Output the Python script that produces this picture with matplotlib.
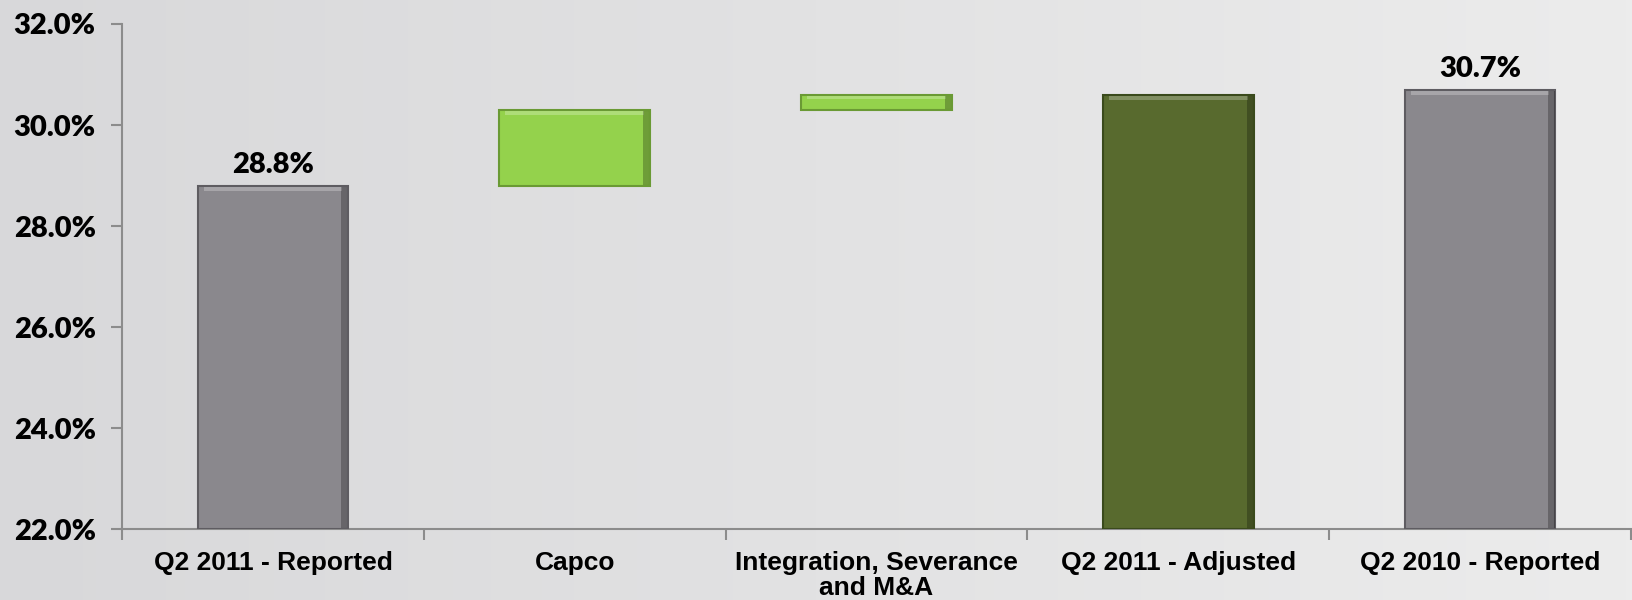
import numpy as np
import matplotlib

matplotlib.use('Agg')

import matplotlib.pyplot as plt
from matplotlib.ticker import FuncFormatter


categories = ['Q2 2011 - Reported', 'Capco', 'Integration, Severance\nand M&A',
              'Q2 2011 - Adjusted', 'Q2 2010 - Reported']
bar_bottoms = [22.0, 28.8, 30.3, 22.0, 22.0]
bar_tops = [28.8, 30.3, 30.6, 30.6, 30.7]
bar_colors = ['#8a888d', '#94d24c', '#94d24c', '#586a2e', '#8a888d']
edge_colors = ['#5e5c61', '#6a9a34', '#6a9a34', '#3a4a1c', '#5e5c61']
value_labels = ['28.8%', None, None, None, '30.7%']
y_ticks = [22.0, 24.0, 26.0, 28.0, 30.0, 32.0]

NUM_FONT = ['Lato', 'DejaVu Sans']
CAT_FONT = ['Liberation Sans Narrow', 'Liberation Sans', 'DejaVu Sans']
BAR_WIDTH = 0.5


def draw_background(fig) -> None:
    bg = fig.add_axes([0, 0, 1, 1], zorder=-10)
    grad = np.linspace(0, 1, 256).reshape(1, -1)
    cmap = matplotlib.colors.LinearSegmentedColormap.from_list('bg', ['#d8d8da', '#ececec'])
    bg.imshow(grad, aspect='auto', cmap=cmap, extent=[0, 1, 0, 1])
    bg.set_axis_off()


def main() -> None:
    fig = plt.figure(figsize=(16.32, 6.0), dpi=100)
    draw_background(fig)

    ax = fig.add_axes([0.0748, 0.118, 0.9245, 0.842])
    ax.patch.set_alpha(0)

    x = np.arange(len(categories))
    bottoms = np.array(bar_bottoms)
    tops = np.array(bar_tops)
    heights = tops - bottoms
    ax.bar(x, heights, bottom=bottoms, width=BAR_WIDTH, color=bar_colors,
           edgecolor=edge_colors, linewidth=1.5, zorder=3)

    # bevel look: light strip on top, dark strip on the right side
    highlight = np.minimum(heights * 0.15, 0.08)
    ax.bar(x, highlight, bottom=tops - highlight - 0.03, width=BAR_WIDTH * 0.92,
           color='white', alpha=0.25, linewidth=0, zorder=4)
    shade_w = 0.02
    ax.bar(x + BAR_WIDTH / 2 - shade_w / 2 - 0.003, heights - 0.04, bottom=bottoms + 0.02,
           width=shade_w, color='black', alpha=0.25, linewidth=0, zorder=4)

    for xi, top, label in zip(x, bar_tops, value_labels):
        if label:
            ax.text(xi, top + 0.15, label, ha='center', va='bottom', fontsize=21,
                    fontweight='heavy', family=NUM_FONT, color='black')

    ax.set_xlim(-0.5, len(categories) - 0.5)
    ax.set_ylim(22.0, 32.0)
    ax.set_yticks(y_ticks)
    ax.yaxis.set_major_formatter(FuncFormatter(lambda v, _: f'{v:.1f}%'))
    for lbl in ax.get_yticklabels():
        lbl.set_fontfamily(NUM_FONT)
        lbl.set_fontweight('heavy')
        lbl.set_fontsize(21)

    ax.set_xticks(x)
    ax.set_xticklabels(categories, fontsize=19, fontweight='bold', family=CAT_FONT,
                       linespacing=1.05)
    ax.set_xticks(np.arange(len(categories) + 1) - 0.5, minor=True)
    ax.tick_params(axis='x', which='major', length=0, pad=16)
    ax.tick_params(axis='x', which='minor', length=8, color='#8c8c8c', width=1.5)
    ax.tick_params(axis='y', length=8, color='#8c8c8c', width=1.5, pad=11)

    for side in ['top', 'right']:
        ax.spines[side].set_visible(False)
    for side in ['left', 'bottom']:
        ax.spines[side].set_color('#8c8c8c')
        ax.spines[side].set_linewidth(1.5)

    fig.savefig('out.png', dpi=100)
    plt.close(fig)


if __name__ == '__main__':
    main()
